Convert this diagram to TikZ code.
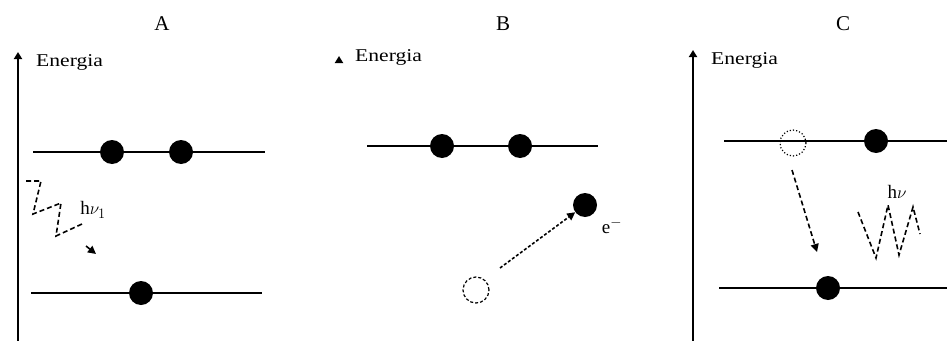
\documentclass[tikz,border=0pt]{standalone}
\usepackage{fontspec}
\setmainfont{Liberation Serif}
\usetikzlibrary{arrows.meta}
\newcommand{\widetext}[1]{\scalebox{1.2}[1]{#1}}
\begin{document}
\begin{tikzpicture}[x=1pt,y=-1pt,
  axis/.style={line width=2pt,-{Triangle[length=7pt,width=8pt]}},
  level/.style={line width=2pt},
  electron/.style={circle,fill=black,minimum size=24pt,inner sep=0pt},
  hole/.style={circle,draw,densely dashed,line width=1.2pt,minimum size=26pt,inner sep=0pt},
  photon/.style={line width=1.6pt,dash pattern=on 5pt off 3pt},
  jump/.style={line width=1.6pt,dash pattern=on 5pt off 3pt,-{Triangle[length=8pt,width=8pt]}},
  title/.style={font=\fontsize{21}{24}\selectfont},
  elabel/.style={font=\fontsize{18}{20}\selectfont,anchor=west,inner sep=0pt},
  symlabel/.style={font=\fontsize{19}{21}\selectfont}]
\useasboundingbox (0,0) rectangle (947,340);

% ---- panel A
\node[title] (tA) at (162,24) {A};
\coordinate (aBot) at (18,345);
\coordinate (aTop) at (18,52);
\draw[axis] (aBot) -- (aTop);
\node[elabel] (eA) at (36,62) {\widetext{Energia}};
\coordinate (aU1) at (33,152); \coordinate (aU2) at (265,152);
\draw[level] (aU1) -- (aU2);
\node[electron] (a1) at (112,152) {};
\node[electron] (a2) at (181,152) {};
\coordinate (aL1) at (31,293); \coordinate (aL2) at (262,293);
\draw[level] (aL1) -- (aL2);
\node[electron] (a3) at (141,293) {};
\coordinate (p0) at (26,181); \coordinate (p1) at (41,181);
\coordinate (p2) at (33,214); \coordinate (p3) at (61,203);
\coordinate (p4) at (56,236); \coordinate (p5) at (82,224);
\coordinate (p6) at (86,246); \coordinate (p7) at (96,254);
\draw[photon] (p0) -- (p1) -- (p2) -- (p3) -- (p4) -- (p5);
\draw[line width=1.6pt,-{Triangle[length=8pt,width=8pt]}] (p6) -- (p7);
\node[symlabel] (hA) at (93,210) {h$\nu_1$};

% ---- panel B
\node[title] (tB) at (503,24) {B};
\coordinate (bAx1) at (339,56); \coordinate (bAx0) at (339,60);
\draw[axis] (bAx0) -- (bAx1);
\node[elabel] (eB) at (355,57) {\widetext{Energia}};
\coordinate (bU1) at (367,146); \coordinate (bU2) at (598,146);
\draw[level] (bU1) -- (bU2);
\node[electron] (b1) at (442,146) {};
\node[electron] (b2) at (520,146) {};
\node[electron] (b3) at (585,205) {};
\node[symlabel] (eminus) at (612,226) {e$^-$};
\node[hole] (bh) at (476,290) {};
\coordinate (bs) at (500,268);
\draw[jump,dash pattern=on 3pt off 2pt] (bs) -- (b3);

% ---- panel C
\node[title] (tC) at (843,24) {C};
\coordinate (cBot) at (693,345);
\coordinate (cTop) at (693,50);
\draw[axis] (cBot) -- (cTop);
\node[elabel] (eC) at (711,60) {\widetext{Energia}};
\coordinate (cU1) at (724,141); \coordinate (cU2) at (947,141);
\draw[level] (cU1) -- (cU2);
\node[electron] (c1) at (876,141) {};
\node[hole,dotted] (ch) at (793,143) {};
\coordinate (cL1) at (719,288); \coordinate (cL2) at (947,288);
\draw[level] (cL1) -- (cL2);
\node[electron] (c2) at (828,288) {};
\coordinate (cs) at (792,170); \coordinate (ce) at (817,252);
\draw[jump] (cs) -- (ce);
\node[symlabel] (hC) at (897,192) {h$\nu$};
\coordinate (w0) at (858,212); \coordinate (w1) at (876,258);
\coordinate (w2) at (888,205); \coordinate (w3) at (899,255);
\coordinate (w4) at (913,207); \coordinate (w5) at (920,234);
\draw[photon] (w0) -- (w1) -- (w2) -- (w3) -- (w4) -- (w5);
\end{tikzpicture}
\end{document}
